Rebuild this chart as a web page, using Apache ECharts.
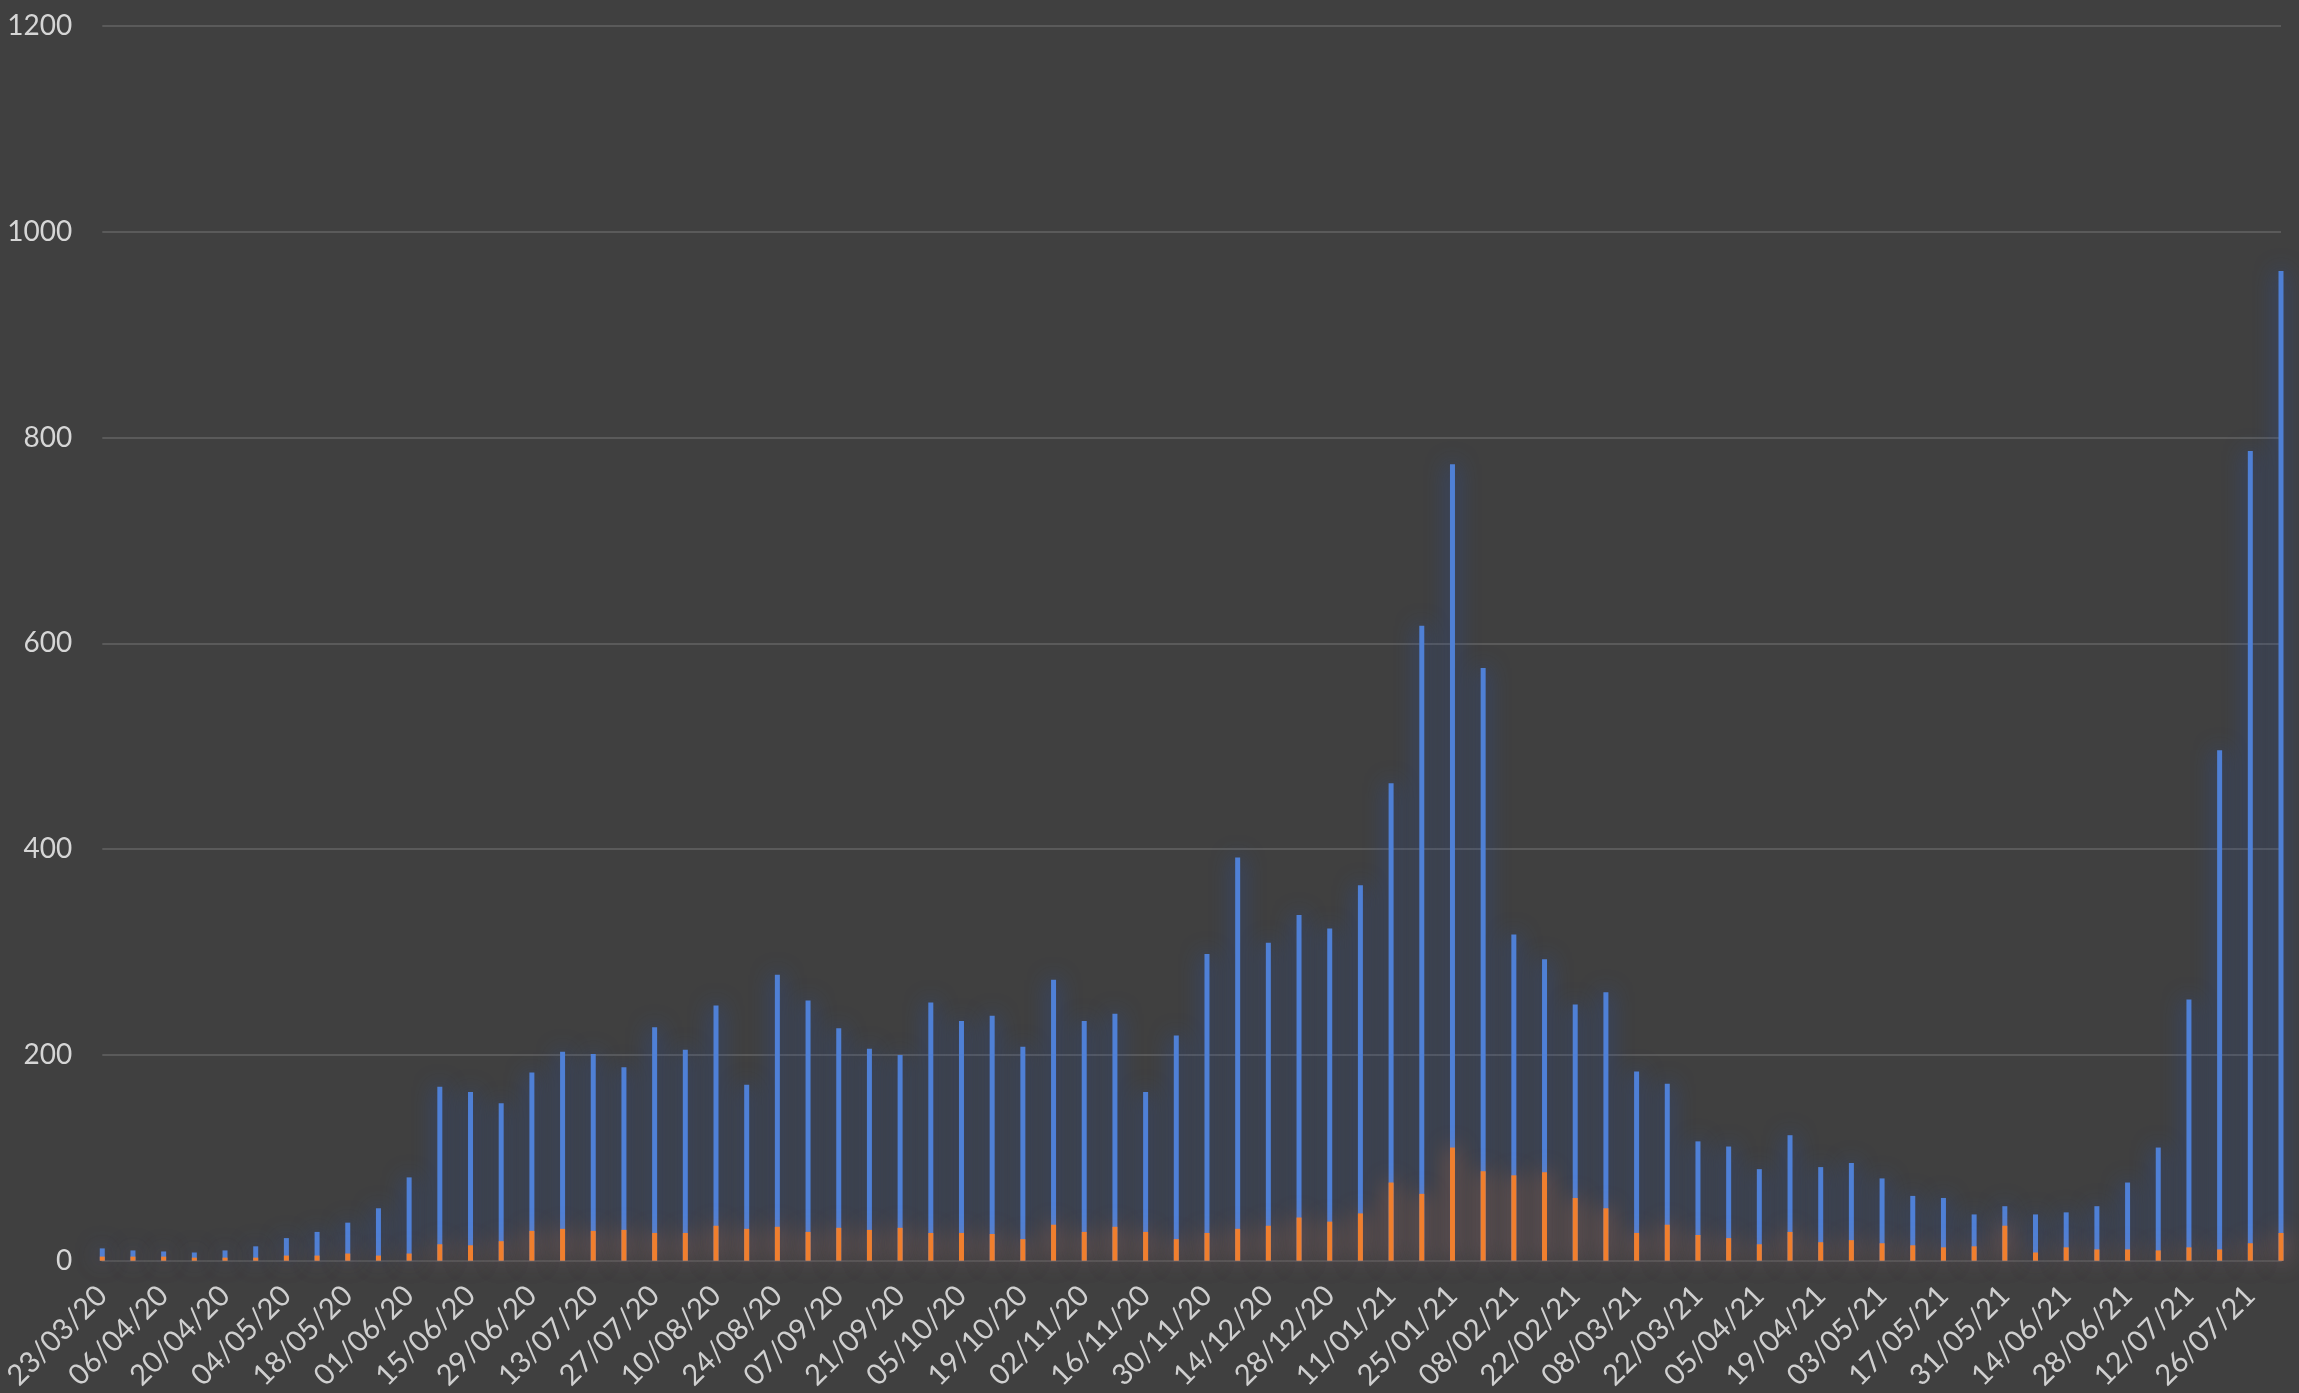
<!DOCTYPE html>
<html>
<head>
<meta charset="utf-8">
<title>Weekly chart</title>
<script src="https://cdn.jsdelivr.net/npm/echarts@6/dist/echarts.min.js"></script>
<style>
  html, body { margin: 0; padding: 0; background: #404040; }
  #chart { width: 2299px; height: 1393px; }
</style>
</head>
<body>
<div id="chart"></div>
<script>
const weeks = [
  "23/03/20", "30/03/20", "06/04/20", "13/04/20", "20/04/20", "27/04/20",
  "04/05/20", "11/05/20", "18/05/20", "25/05/20", "01/06/20", "08/06/20",
  "15/06/20", "22/06/20", "29/06/20", "06/07/20", "13/07/20", "20/07/20",
  "27/07/20", "03/08/20", "10/08/20", "17/08/20", "24/08/20", "31/08/20",
  "07/09/20", "14/09/20", "21/09/20", "28/09/20", "05/10/20", "12/10/20",
  "19/10/20", "26/10/20", "02/11/20", "09/11/20", "16/11/20", "23/11/20",
  "30/11/20", "07/12/20", "14/12/20", "21/12/20", "28/12/20", "04/01/21",
  "11/01/21", "18/01/21", "25/01/21", "01/02/21", "08/02/21", "15/02/21",
  "22/02/21", "01/03/21", "08/03/21", "15/03/21", "22/03/21", "29/03/21",
  "05/04/21", "12/04/21", "19/04/21", "26/04/21", "03/05/21", "10/05/21",
  "17/05/21", "24/05/21", "31/05/21", "07/06/21", "14/06/21", "21/06/21",
  "28/06/21", "05/07/21", "12/07/21", "19/07/21", "26/07/21", "02/08/21"
];

// blue bars (tall series)
const blueValues = [
  12, 10, 9, 8, 10, 14, 22, 28, 37, 51,
  81, 169, 164, 153, 183, 203, 201, 188, 227, 205,
  248, 171, 278, 253, 226, 206, 200, 251, 233, 238,
  208, 273, 233, 240, 164, 219, 298, 392, 309, 336,
  323, 365, 464, 617, 774, 576, 317, 293, 249, 261,
  184, 172, 116, 111, 89, 122, 91, 95, 80, 63,
  61, 45, 53, 45, 47, 53, 76, 110, 254, 496,
  787, 962
];

// orange bars (short series)
const orangeValues = [
  4, 4, 4, 3, 3, 3, 5, 5, 7, 5,
  7, 16, 15, 19, 29, 31, 29, 30, 27, 27,
  34, 31, 33, 28, 32, 30, 32, 27, 27, 26,
  21, 35, 28, 33, 28, 21, 27, 31, 34, 42,
  38, 46, 76, 65, 110, 87, 83, 86, 61, 51,
  27, 35, 25, 22, 16, 28, 18, 20, 17, 15,
  13, 14, 34, 8, 13, 11, 11, 10, 13, 11,
  17, 27
];

const yTicks = { min: 0, max: 1200, interval: 200 };

const chart = echarts.init(document.getElementById("chart"));
const labelFont = "Lato, 'Open Sans', sans-serif";

const option = {
  backgroundColor: "#404040",
  animation: false,
  grid: { left: 99, right: 18, top: 26, bottom: 132 },
  xAxis: {
    type: "category",
    data: weeks,
    boundaryGap: false,
    axisLine: { show: true, lineStyle: { color: "#555555", width: 2 } },
    axisTick: { show: false },
    splitLine: { show: false },
    axisLabel: {
      interval: 1,
      rotate: 45,
      margin: 30,
      color: "#cfcfcf",
      fontSize: 29,
      fontFamily: labelFont,
    },
  },
  yAxis: {
    type: "value",
    min: yTicks.min,
    max: yTicks.max,
    interval: yTicks.interval,
    axisLine: { show: false },
    axisTick: { show: false },
    splitLine: { lineStyle: { color: "#5a5a5a", width: 2 } },
    axisLabel: {
      margin: 30,
      color: "#d6d6d6",
      fontSize: 28,
      fontFamily: labelFont,
      formatter: (value) => String(value),
    },
  },
  series: [
    {
      type: "bar",
      data: blueValues,
      barWidth: 5,
      barGap: "-100%",
      clip: false,
      itemStyle: {
        color: "#4f80d6",
        shadowColor: "rgba(40, 80, 170, 1)",
        shadowBlur: 22,
      },
    },
    {
      type: "bar",
      data: orangeValues,
      barWidth: 5,
      barGap: "-100%",
      clip: false,
      z: 3,
      itemStyle: {
        color: "#f07f2e",
        shadowColor: "rgba(237, 125, 49, 0.8)",
        shadowBlur: 22,
      },
    },
  ],
};

chart.setOption(option);
window.addEventListener("resize", () => {
  chart.resize();
});
</script>
</body>
</html>
